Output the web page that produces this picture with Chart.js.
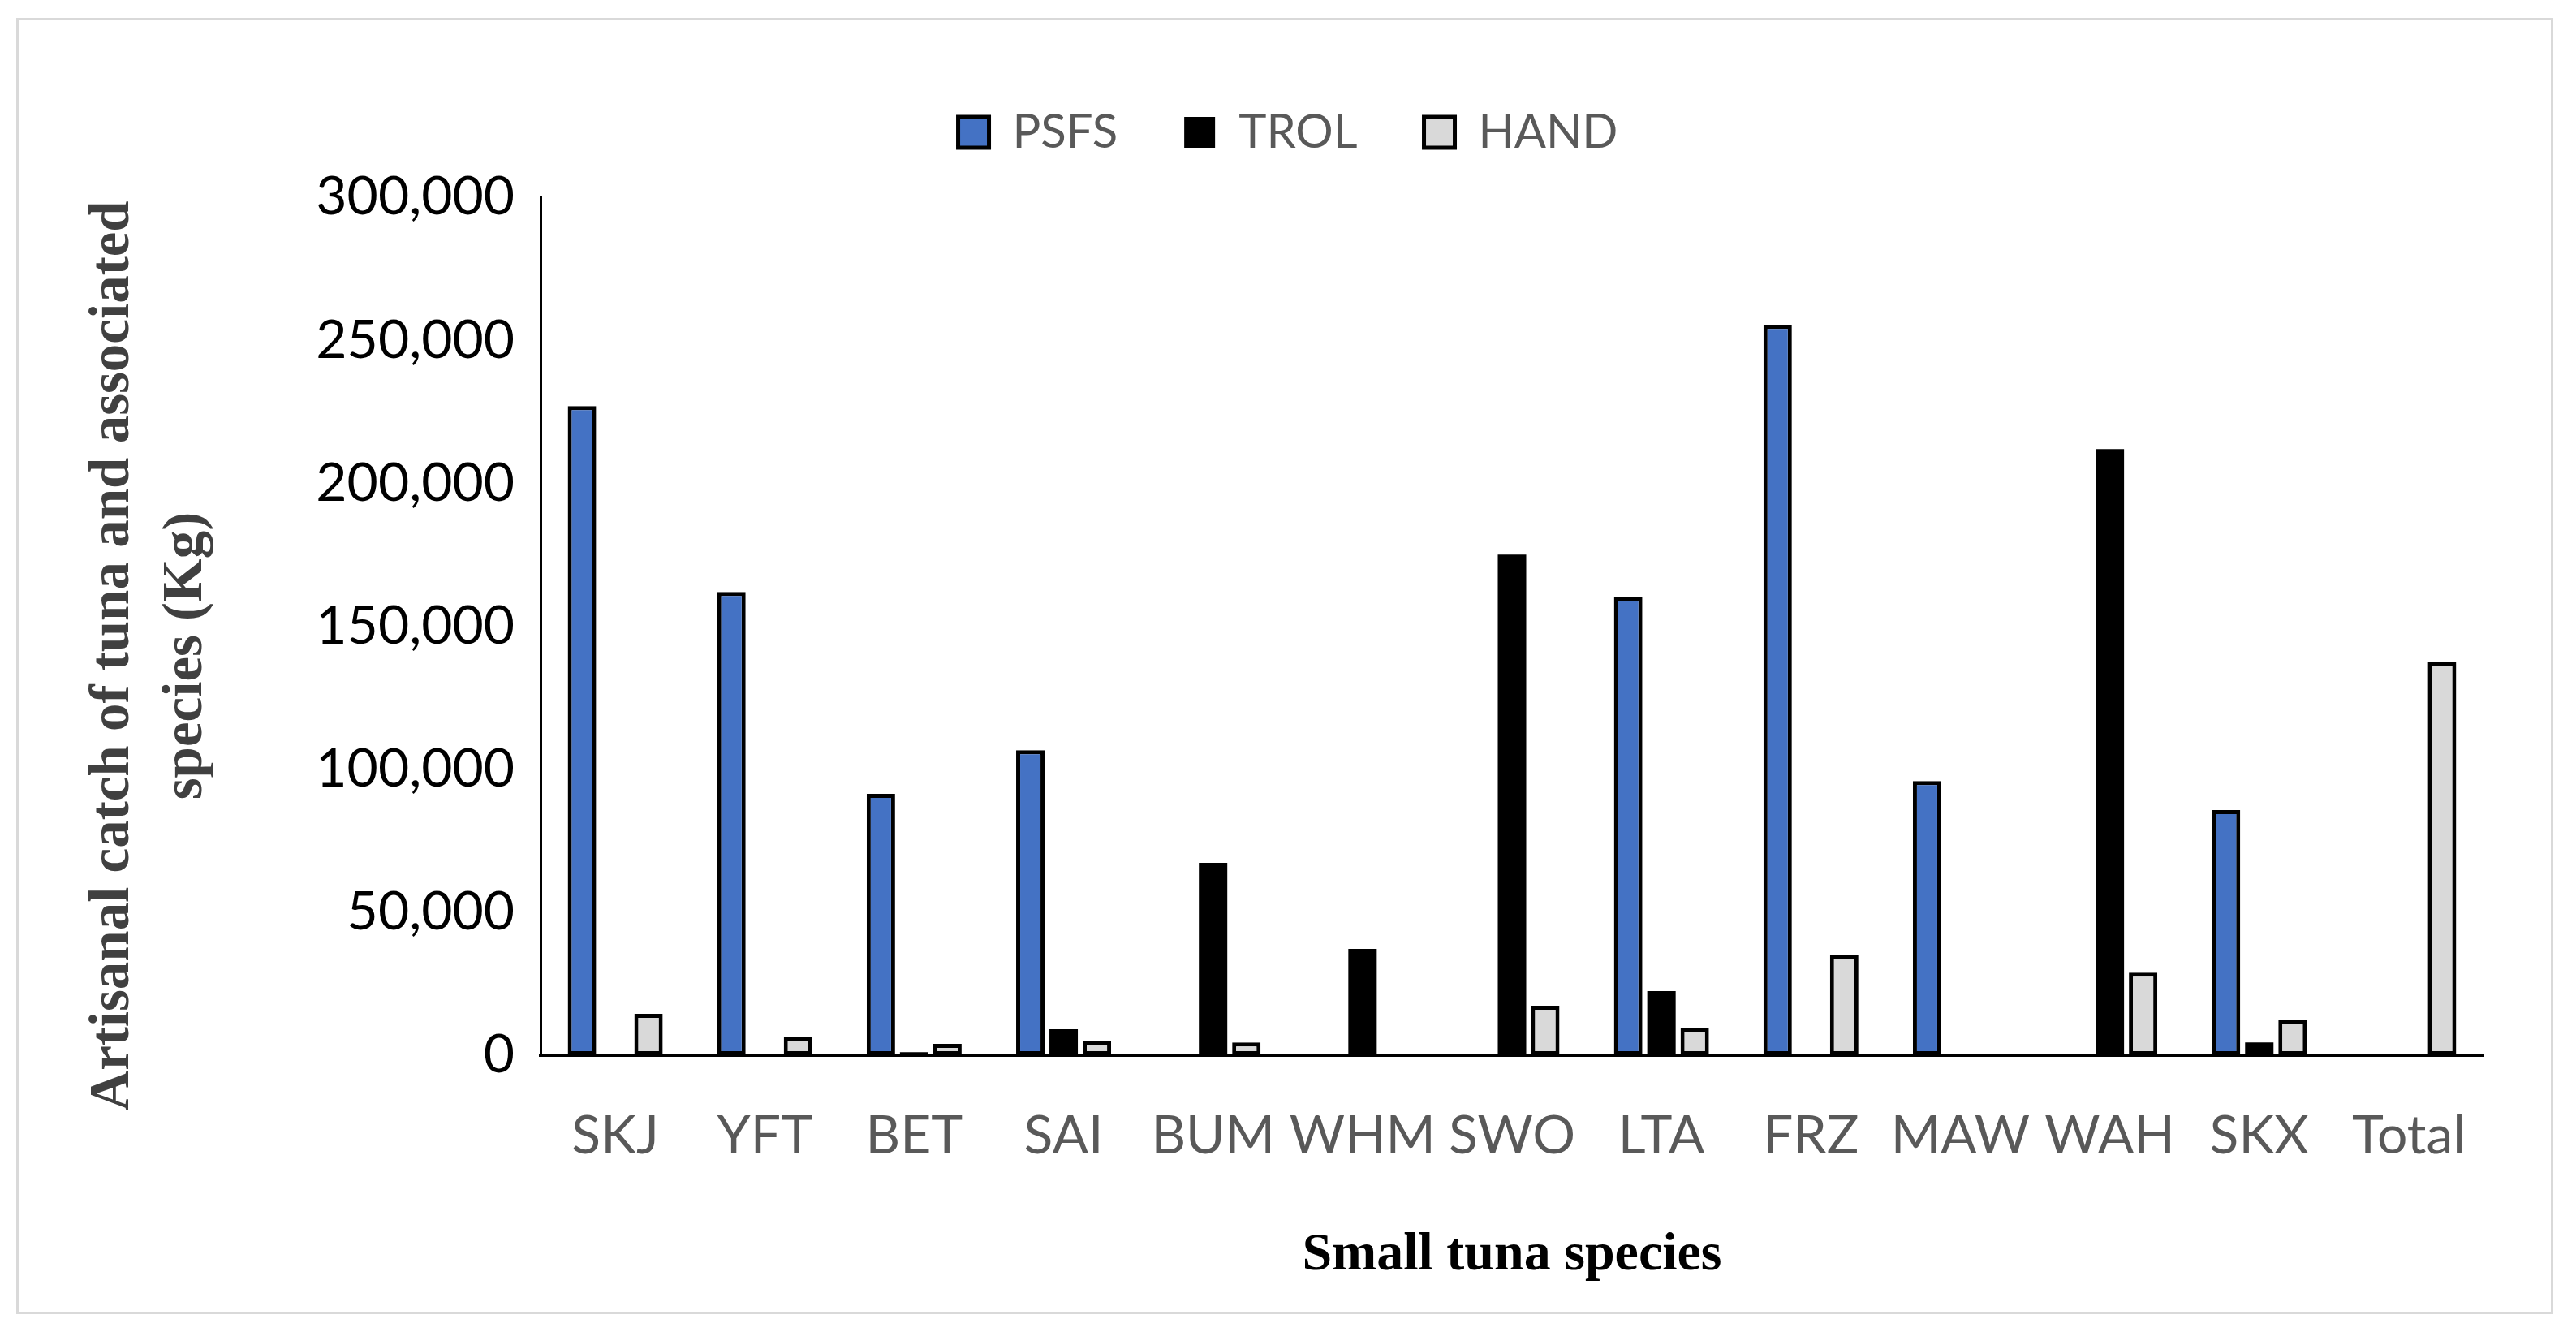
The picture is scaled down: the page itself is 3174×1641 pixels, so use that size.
<!DOCTYPE html>
<html>
<head>
<meta charset="utf-8">
<script src="https://cdn.jsdelivr.net/npm/chart.js@4.4.1/dist/chart.umd.min.js"></script>
<style>
  html, body { margin: 0; padding: 0; background: #fff; }
  #wrap { position: absolute; left: 0; top: 0; width: 3174px; height: 1641px; }
  #frame {
    position: absolute; left: 20px; top: 22px; width: 3126px; height: 1597px;
    border: 3px solid #d9d9d9; box-sizing: border-box; pointer-events: none;
  }
</style>
</head>
<body>
<div id="wrap"><canvas id="chart"></canvas></div>
<div id="frame"></div>
<script>
// --- DATA ---
const categories = ['SKJ', 'YFT', 'BET', 'SAI', 'BUM', 'WHM', 'SWO', 'LTA', 'FRZ', 'MAW', 'WAH', 'SKX', 'Total'];
const psfsValues = [227000, 162000, 91400, 106700, 0, 0, 0, 160300, 255400, 95900, 0, 85700, 0];
const trolValues = [0, 0, 1100, 9100, 67300, 37200, 175100, 22400, 0, 0, 212000, 4500, 0];
const handValues = [14500, 6500, 4000, 5100, 4500, 0, 17300, 9600, 34900, 0, 28900, 12200, 137400];
const yTicks = [0, 50000, 100000, 150000, 200000, 250000, 300000];
const yTitleLines = ['Artisanal catch of tuna and associated', 'species (Kg)'];
const xTitle = 'Small tuna species';

// y-axis title is drawn by hand so it can sit where the original has it
const yTitlePlugin = {
    id: 'yTitle',
    afterDraw(chart) {
        const ctx = chart.ctx;
        ctx.save();
        ctx.fillStyle = '#404040';
        ctx.font = 'bold 69px "Liberation Serif"';
        ctx.textAlign = 'center';
        ctx.textBaseline = 'alphabetic';
        yTitleLines.forEach((line, i) => {
            ctx.save();
            ctx.translate(158 + i * 90, 808);
            ctx.rotate(-Math.PI / 2);
            ctx.fillText(line, 0, 0);
            ctx.restore();
        });
        ctx.restore();
    }
};

const ctx = document.getElementById('chart').getContext('2d');
new Chart(ctx, {
    type: 'bar',
    data: {
        labels: categories,
        datasets: [{
            label: 'PSFS',
            data: psfsValues,
            backgroundColor: '#4472C4',
            borderColor: '#000000',
            borderWidth: 5,
            borderSkipped: false
        }, {
            label: 'TROL',
            data: trolValues,
            backgroundColor: '#000000',
            borderColor: '#000000',
            borderWidth: 0
        }, {
            label: 'HAND',
            data: handValues,
            backgroundColor: '#D9D9D9',
            borderColor: '#000000',
            borderWidth: 5,
            borderSkipped: false
        }]
    },
    options: {
        responsive: true,
        maintainAspectRatio: false,
        animation: false,
        devicePixelRatio: 1,
        categoryPercentage: 0.668,
        barPercentage: 0.854,
        layout: { padding: { top: 52, right: 0, left: 0, bottom: 0 } },
        plugins: {
            tooltip: { enabled: false },
            legend: {
                position: 'top',
                labels: {
                    boxWidth: 38,
                    boxHeight: 38,
                    padding: 82,
                    color: '#595959',
                    font: { family: 'Lato', size: 58 }
                }
            },
            // empty title used only as a spacer between legend and plot
            title: {
                display: true,
                text: '',
                weight: 500,
                font: { size: 1 },
                padding: { top: 0, bottom: 40 }
            }
        },
        scales: {
            x: {
                grid: { display: false, drawTicks: false },
                border: { display: true, color: '#000000', width: 4 },
                ticks: {
                    color: '#595959',
                    padding: 60,
                    maxRotation: 0,
                    autoSkip: false,
                    font: { family: 'Lato', size: 66 }
                },
                title: {
                    display: true,
                    text: xTitle,
                    color: '#000000',
                    font: { family: 'Liberation Serif', size: 66, weight: 'bold' },
                    padding: { top: 0, bottom: 54 }
                },
                afterFit(scale) { scale.height = 341; }
            },
            y: {
                min: 0,
                max: 300000,
                grid: { display: false, drawTicks: false },
                border: { display: true, color: '#000000', width: 3 },
                afterBuildTicks(scale) { scale.ticks = yTicks.map(v => ({ value: v })); },
                ticks: {
                    color: '#000000',
                    padding: 32,
                    font: { family: 'Lato', size: 66 },
                    callback: v => v.toLocaleString('en-US')
                },
                afterFit(scale) { scale.width = 666; }
            },
            // blank right margin, keeps the legend centred on the whole figure
            yRight: {
                position: 'right',
                grid: { display: false, drawTicks: false },
                border: { display: false },
                ticks: { display: false },
                afterFit(scale) { scale.width = 114; }
            }
        }
    },
    plugins: [yTitlePlugin]
});
</script>
</body>
</html>
